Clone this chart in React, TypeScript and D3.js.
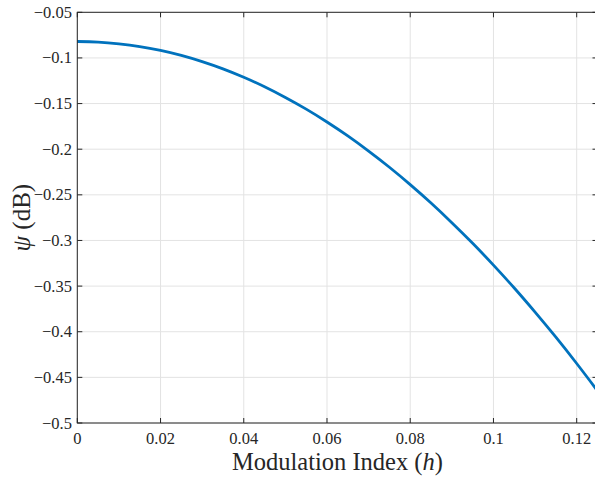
import React from "react";
import * as d3 from "d3";

const hValues = [0, 0.005, 0.01, 0.015, 0.02, 0.025, 0.03, 0.035, 0.04, 0.045, 0.05, 0.055, 0.06, 0.065, 0.07, 0.075, 0.08, 0.085, 0.09, 0.095, 0.1, 0.105, 0.11, 0.115, 0.12, 0.125];
const psiValues = [-0.082, -0.0826, -0.0845, -0.0875, -0.0918, -0.0973, -0.1041, -0.112, -0.1212, -0.1316, -0.1433, -0.1561, -0.1702, -0.1855, -0.2021, -0.2198, -0.2388, -0.259, -0.2805, -0.3031, -0.327, -0.3521, -0.3785, -0.406, -0.4348, -0.4648];
const xTicks = [0, 0.02, 0.04, 0.06, 0.08, 0.1, 0.12];
const yTicks = [-0.5, -0.45, -0.4, -0.35, -0.3, -0.25, -0.2, -0.15, -0.1, -0.05];

const W = 595;
const H = 479;
const left = 77.3;
const right = 597.5;
const top = 12.3;
const bottom = 423;
const font = "'Liberation Serif', 'DejaVu Serif', serif";
const axisColor = "#262626";

export default function App() {
  const x = d3.scaleLinear().domain([0, 0.125]).range([left, right]);
  const y = d3.scaleLinear().domain([-0.5, -0.05]).range([bottom, top]);
  const line = d3
    .line<number>()
    .x((_, i) => x(hValues[i]))
    .y((d) => y(d))
    .curve(d3.curveCatmullRom);
  const fmt = (v: number) => String(+Math.abs(v).toFixed(3));
  const tickLen = 5;

  return (
    <svg width={W} height={H} style={{ position: "absolute", left: 0, top: 0, background: "#fff" }}>
      <rect x={0} y={0} width={W} height={H} fill="#fff" />
      {/* grid */}
      {xTicks.map((t) => (
        <line key={"gx" + t} x1={x(t)} x2={x(t)} y1={top} y2={bottom} stroke="#e3e3e3" strokeWidth={1} />
      ))}
      {yTicks.map((t) => (
        <line key={"gy" + t} x1={left} x2={right} y1={y(t)} y2={y(t)} stroke="#e3e3e3" strokeWidth={1} />
      ))}
      {/* data curve */}
      <path d={line(psiValues) ?? ""} fill="none" stroke="#0072BD" strokeWidth={2.8} strokeLinejoin="round" />
      {/* box */}
      <rect x={left} y={top} width={right - left} height={bottom - top} fill="none" stroke={axisColor} strokeWidth={1} />
      {/* ticks */}
      {xTicks.map((t) => (
        <g key={"tx" + t}>
          <line x1={x(t)} x2={x(t)} y1={bottom} y2={bottom - tickLen} stroke={axisColor} />
          <line x1={x(t)} x2={x(t)} y1={top} y2={top + tickLen} stroke={axisColor} />
          <text x={x(t)} y={444} textAnchor="middle" fontFamily={font} fontSize={16.5} fill={axisColor}>
            {fmt(t)}
          </text>
        </g>
      ))}
      {yTicks.map((t) => (
        <g key={"ty" + t}>
          <line x1={left} x2={left + tickLen} y1={y(t)} y2={y(t)} stroke={axisColor} />
          <line x1={right} x2={right - tickLen} y1={y(t)} y2={y(t)} stroke={axisColor} />
          <text x={72} y={y(t) + 5.5} textAnchor="end" fontFamily={font} fontSize={16.5} fill={axisColor}>
            {"\u2212" + fmt(t)}
          </text>
        </g>
      ))}
      {/* axis labels */}
      <text x={(left + right) / 2} y={470} textAnchor="middle" fontFamily={font} fontSize={24.5} fill={axisColor}>
        Modulation Index (<tspan fontStyle="italic">h</tspan>)
      </text>
      <text
        transform={`translate(30, ${(top + bottom) / 2}) rotate(-90)`}
        textAnchor="middle"
        fontFamily={font}
        fontSize={25}
        fill={axisColor}
      >
        <tspan fontStyle="italic">ψ</tspan> (dB)
      </text>
    </svg>
  );
}
